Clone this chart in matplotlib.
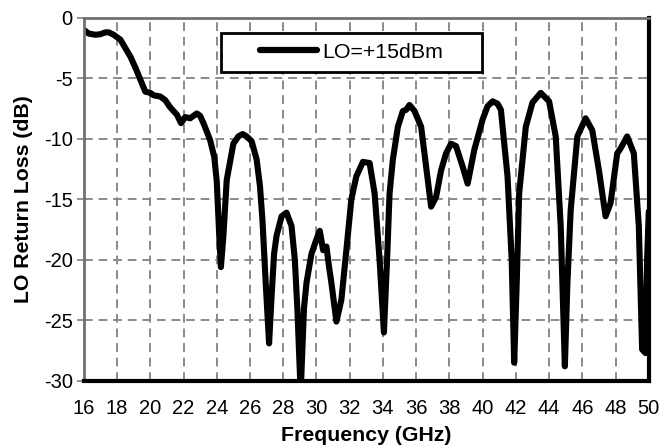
import matplotlib
matplotlib.use('Agg')
import matplotlib.pyplot as plt
from matplotlib.patches import Rectangle

plt.rcParams['font.family'] = ['Liberation Sans', 'DejaVu Sans']
plt.rcParams['axes.unicode_minus'] = False

# LO return loss vs frequency
freq_ghz = [16.0, 16.3, 16.7, 17.0, 17.3, 17.5, 17.8, 18.2, 18.5, 18.8, 19.1, 19.4,
            19.7, 20.0, 20.2, 20.6, 20.9, 21.2, 21.6, 21.85, 22.1, 22.4, 22.8, 23.0,
            23.2, 23.6, 23.85, 24.0, 24.15, 24.25, 24.4, 24.6, 25.0, 25.3, 25.56, 25.8,
            26.1, 26.4, 26.6, 26.75, 26.95, 27.15, 27.3, 27.45, 27.6, 27.9, 28.2, 28.5,
            28.7, 28.85, 29.05, 29.25, 29.4, 29.7, 30.0, 30.2, 30.4, 30.6, 30.75, 30.9,
            31.2, 31.5, 31.8, 32.1, 32.4, 32.8, 33.2, 33.5, 33.8, 34.06, 34.25, 34.4,
            34.6, 34.9, 35.2, 35.4, 35.6, 35.9, 36.3, 36.6, 36.9, 37.2, 37.5, 37.8,
            38.1, 38.4, 38.8, 39.1, 39.5, 40.0, 40.3, 40.6, 40.9, 41.1, 41.5, 41.75,
            41.9, 42.05, 42.2, 42.6, 43.0, 43.5, 44.0, 44.4, 44.7, 44.95, 45.1, 45.3,
            45.7, 46.2, 46.6, 47.0, 47.4, 47.7, 48.1, 48.3, 48.7, 49.1, 49.4, 49.6,
            49.8, 49.9, 50.0]
return_loss_db = [-1.0, -1.3, -1.4, -1.35, -1.2, -1.2, -1.4, -1.8, -2.5, -3.2, -4.1, -5.1,
                  -6.1, -6.2, -6.4, -6.5, -6.8, -7.4, -8.0, -8.7, -8.2, -8.3, -7.9, -8.1,
                  -8.7, -10.1, -11.5, -13.5, -18.0, -20.6, -18.0, -13.4, -10.4, -9.8, -9.6, -9.8,
                  -10.2, -11.7, -13.9, -16.7, -22.0, -26.9, -23.0, -19.5, -18.0, -16.4, -16.1, -17.2,
                  -20.0, -24.0, -31.0, -24.0, -21.9, -19.5, -18.3, -17.6, -19.2, -18.9, -20.5, -21.9,
                  -25.1, -23.3, -19.2, -15.0, -13.1, -11.9, -12.0, -14.5, -20.0, -26.0, -20.0, -14.5,
                  -11.7, -9.0, -7.7, -7.6, -7.2, -7.7, -9.0, -12.3, -15.6, -14.8, -12.6, -11.2,
                  -10.4, -10.6, -12.3, -13.7, -10.9, -8.4, -7.3, -6.9, -7.1, -7.6, -13.1, -20.0,
                  -28.5, -22.0, -14.5, -9.0, -7.0, -6.2, -6.9, -9.8, -17.2, -28.8, -22.0, -15.9,
                  -9.8, -8.3, -9.3, -12.6, -16.4, -15.3, -11.2, -10.8, -9.8, -11.2, -17.2, -27.4,
                  -27.7, -20.0, -16.0]
x_ticks = list(range(16, 51, 2))
y_ticks = [0, -5, -10, -15, -20, -25, -30]

fig = plt.figure(figsize=(6.6, 4.46), dpi=100)
ax = fig.add_axes([0.127, 0.146, 0.856, 0.814])

ax.plot(freq_ghz, return_loss_db, color='black', lw=4.4, label='LO=+15dBm',
        solid_joinstyle='round', solid_capstyle='round')

ax.set_xlim(16, 50)
ax.set_ylim(-30, 0)
ax.set_xticks(x_ticks)
ax.set_yticks(y_ticks)
ax.grid(True, color='#8a8a8a', linestyle=(0, (4.5, 3)), lw=1.4)
ax.tick_params(axis='both', labelsize=14.5, colors='black')
ax.tick_params(axis='x', length=0, pad=13)
ax.tick_params(axis='y', length=5, width=1.2, color='#808080', pad=3)

ax.spines['left'].set_color('#707070')
ax.spines['left'].set_linewidth(2)
ax.spines['top'].set_color('#707070')
ax.spines['top'].set_linewidth(2)
ax.spines['bottom'].set_color('black')
ax.spines['bottom'].set_linewidth(3)
ax.spines['right'].set_color('black')
ax.spines['right'].set_linewidth(3)

ax.set_xlabel('Frequency (GHz)', fontsize=15.3, fontweight='bold', labelpad=6)
ax.set_ylabel('LO Return Loss (dB)', fontsize=15.3, fontweight='bold', labelpad=8)

# legend box is wider than the entry, so draw the frame separately
ax.add_patch(Rectangle((0.2425, 0.851), 0.462, 0.1074, transform=ax.transAxes,
                       facecolor='white', edgecolor='black', lw=2, zorder=4))
leg = ax.legend(loc='center', bbox_to_anchor=(0.4735, 0.905), fontsize=15.4,
                frameon=False, handlelength=2.65, handletextpad=0.25,
                borderpad=0, borderaxespad=0)
leg.set_zorder(5)
leg.legend_handles[0].set_linewidth(4.5)

fig.savefig('out.png', dpi=100)
